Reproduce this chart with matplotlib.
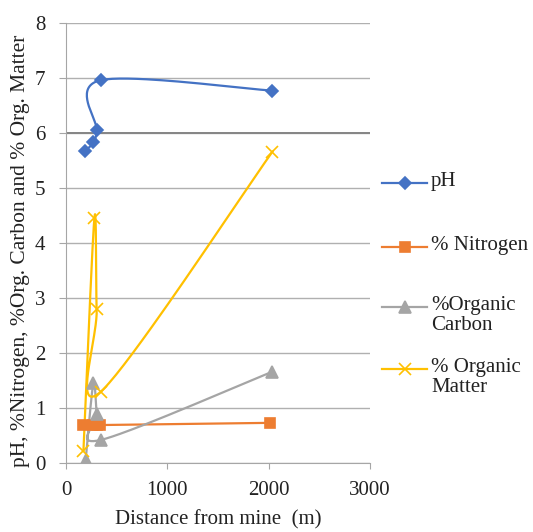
import numpy as np
import matplotlib
matplotlib.use("Agg")
import matplotlib.pyplot as plt
from matplotlib.lines import Line2D

plt.rcParams['font.family'] = ['Liberation Serif', 'DejaVu Serif']

# Data (distance in m)
ph_x = [188, 270, 303, 342, 2037]
ph_y = [5.67, 5.83, 6.05, 6.96, 6.77]

nit_x = [168, 270, 303, 335, 2014]
nit_y = [0.69, 0.69, 0.69, 0.69, 0.73]

oc_x = [194, 270, 303, 345, 2037]
oc_y = [0.05, 1.45, 0.90, 0.42, 1.66]

om_x = [172, 280, 303, 345, 2037]
om_y = [0.22, 4.45, 2.80, 1.30, 5.66]

ph_ref = 6  # darker horizontal line at pH 6

labels = ["pH", "% Nitrogen", "%Organic\nCarbon", "% Organic\nMatter"]
colors = ['#4472C4', '#ED7D31', '#A5A5A5', '#FFC000']
markers = ['D', 's', '^', 'x']
msizes = [6, 7.5, 8, 9]

W, H = 533, 532


def smooth(xs, ys, n=40):
    # Excel-style smoothed line (Catmull-Rom bezier through the points)
    pts = np.column_stack([xs, ys]).astype(float)
    sc = np.array([1 / 3000.0, 1 / 8.0 * 440 / 304])
    p = pts * sc
    out = []
    for i in range(len(p) - 1):
        p0 = p[i - 1] if i > 0 else p[i]
        p1 = p[i]
        p2 = p[i + 1]
        p3 = p[i + 2] if i + 2 < len(p) else p[i + 1]
        c1 = p1 + (p2 - p0) / 6
        c2 = p2 - (p3 - p1) / 6
        t = np.linspace(0, 1, n)[:, None]
        seg = ((1 - t) ** 3) * p1 + 3 * ((1 - t) ** 2) * t * c1 + 3 * (1 - t) * t ** 2 * c2 + t ** 3 * p2
        out.append(seg)
    out = np.vstack(out) / sc
    return out[:, 0], out[:, 1]


fig = plt.figure(figsize=(W / 100, H / 100), dpi=100)
ax = fig.add_axes([66 / W, 1 - 463 / H, 304 / W, 440 / H])

series = [(ph_x, ph_y), (nit_x, nit_y), (oc_x, oc_y), (om_x, om_y)]
for (xs, ys), c, m, ms in zip(series, colors, markers, msizes):
    sx, sy = smooth(xs, ys)
    ax.plot(sx, sy, color=c, lw=1.6, zorder=3)
    ax.plot(xs, ys, linestyle='none', marker=m, color=c, ms=ms, mew=1.2, zorder=4)

ax.set_xlim(0, 3000)
ax.set_ylim(0, 8)
ax.set_xticks([0, 1000, 2000, 3000])
ax.set_yticks(range(0, 9))
ax.grid(axis='y', color='#B0B0B0', lw=1)
ax.axhline(ph_ref, color='#858585', lw=1.4, zorder=1.5)
ax.set_axisbelow(True)
for s in ['top', 'right']:
    ax.spines[s].set_visible(False)
for s in ['left', 'bottom']:
    ax.spines[s].set_color('#A6A6A6')
ax.tick_params(axis='both', colors='#A6A6A6', labelcolor='#222222', labelsize=15)
ax.tick_params(axis='x', length=4, pad=9)
ax.tick_params(axis='y', length=5, pad=10)

ax.set_xlabel("Distance from mine  (m)", fontsize=15, color='#222222', labelpad=7)
fig.text(21 / W, 1 - 251 / H, "pH, %Nitrogen, %Org. Carbon and % Org. Matter",
         fontsize=15.5, color='#222222', rotation=90, ha='center', va='center')

# legend drawn by hand so the handle sits on the first text line (as in Excel)
leg_y = [183, 247, 307, 369]
for yy, lab, c, m, ms in zip(leg_y, labels, colors, markers, msizes):
    fy = 1 - yy / H
    fig.add_artist(Line2D([382 / W, 427 / W], [fy, fy], color=c, lw=1.6,
                          transform=fig.transFigure))
    fig.add_artist(Line2D([404.5 / W], [fy], color=c, marker=m, ms=ms, mew=1.2,
                          transform=fig.transFigure))
    fig.text(431 / W, 1 - (yy - 11) / H, lab, fontsize=15, color='#222222',
             va='top', ha='left', linespacing=1.05)

fig.savefig("out.png", dpi=100)
